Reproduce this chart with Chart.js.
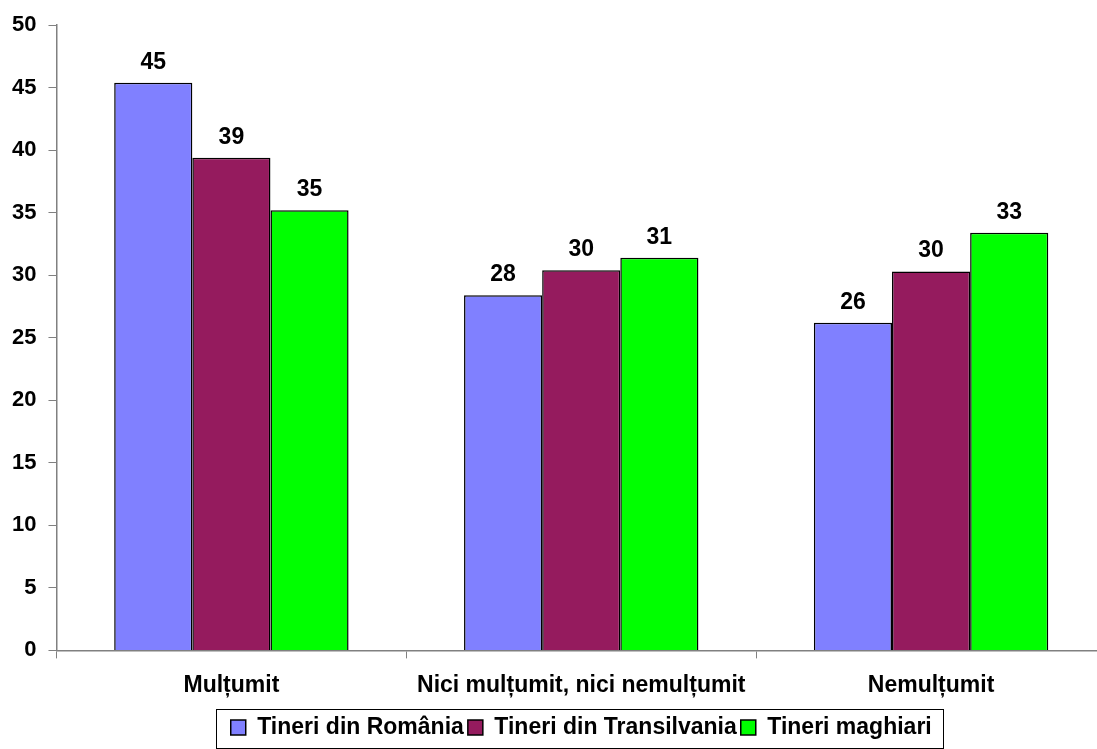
<!DOCTYPE html>
<html lang="ro">
<head>
  <meta charset="UTF-8">
  <title>Mulțumire</title>
  <script src="https://cdn.jsdelivr.net/npm/chart.js"></script>
  <style>
    html, body {
      margin: 0;
      padding: 0;
      background: #ffffff;
      overflow: hidden;
    }
    #chart-container {
      width: 1106px;
      height: 749px;
    }
  </style>
</head>
<body>

  <div id="chart-container">
    <canvas id="myChart"></canvas>
  </div>

  <script>
    const categories = ['Mulțumit', 'Nici mulțumit, nici nemulțumit', 'Nemulțumit'];
    const seriesNames = ['Tineri din România', 'Tineri din Transilvania', 'Tineri maghiari'];
    const romania = [45.4, 28.4, 26.2];
    const transilvania = [39.4, 30.4, 30.3];
    const maghiari = [35.2, 31.4, 33.4];
    const colors = ['#8080ff', '#951b5e', '#00ff00'];

    const font = 'Arial, "Liberation Sans", sans-serif';

    // value labels above each bar
    const valueLabels = {
      id: 'valueLabels',
      afterDatasetsDraw(chart) {
        const ctx = chart.ctx;
        ctx.save();
        ctx.font = 'bold 23px ' + font;
        ctx.fillStyle = '#000';
        ctx.textAlign = 'center';
        ctx.textBaseline = 'bottom';
        chart.data.datasets.forEach((ds, i) => {
          chart.getDatasetMeta(i).data.forEach((bar, j) => {
            ctx.fillText(Math.round(ds.data[j]), bar.x, bar.y - 9);
          });
        });
        ctx.restore();
      }
    };

    // center the legend under the plot area and frame it
    const legendFrame = {
      id: 'legendFrame',
      afterLayout(chart) {
        const l = chart.legend;
        const shift = (chart.chartArea.left + chart.chartArea.right) / 2 - (l.left + l.right) / 2;
        l.left += shift;
        l.right += shift;
      },
      afterDraw(chart) {
        const l = chart.legend;
        const w = l.lineWidths ? l.lineWidths[0] : 0;
        if (!w) return;
        const ctx = chart.ctx;
        const cx = (l.left + l.right) / 2;
        const cy = (l.top + l.bottom) / 2;
        const left = Math.round(cx - w / 2 - 13);
        const width = Math.round(w + 22);
        ctx.save();
        ctx.strokeStyle = '#000';
        ctx.lineWidth = 1;
        ctx.strokeRect(left + 0.5, Math.round(cy - 22) + 0.5, width, 39);
        ctx.restore();
      }
    };

    const ctx = document.getElementById('myChart').getContext('2d');
    new Chart(ctx, {
      type: 'bar',
      data: {
        labels: categories,
        datasets: [romania, transilvania, maghiari].map((d, i) => ({
          label: seriesNames[i],
          data: d,
          backgroundColor: colors[i],
          borderColor: '#000',
          borderWidth: 1.5,
          barPercentage: 1,
          categoryPercentage: 0.67
        }))
      },
      options: {
        responsive: true,
        maintainAspectRatio: false,
        animation: false,
        layout: { padding: { top: 25, left: 0, right: 0, bottom: 0 } },
        scales: {
          x: {
            offset: true,
            grid: { display: true, drawOnChartArea: false, offset: true, tickLength: 8, color: '#808080' },
            border: { color: '#808080', width: 1.5 },
            ticks: { color: '#000', font: { family: font, size: 23, weight: 'bold' }, padding: 13 }
          },
          y: {
            min: 0,
            max: 50,
            ticks: { stepSize: 5, color: '#000', font: { family: font, size: 22, weight: 'bold' }, padding: 12 },
            grid: { display: true, drawOnChartArea: false, tickLength: 8, color: '#808080' },
            border: { color: '#808080', width: 1.5 }
          }
        },
        plugins: {
          tooltip: { enabled: false },
          legend: {
            position: 'bottom',
            labels: {
              color: '#000',
              font: { family: font, size: 23, weight: 'bold' },
              boxWidth: 15,
              boxHeight: 15,
              padding: 4
            }
          }
        }
      },
      plugins: [valueLabels, legendFrame]
    });
  </script>

</body>
</html>
